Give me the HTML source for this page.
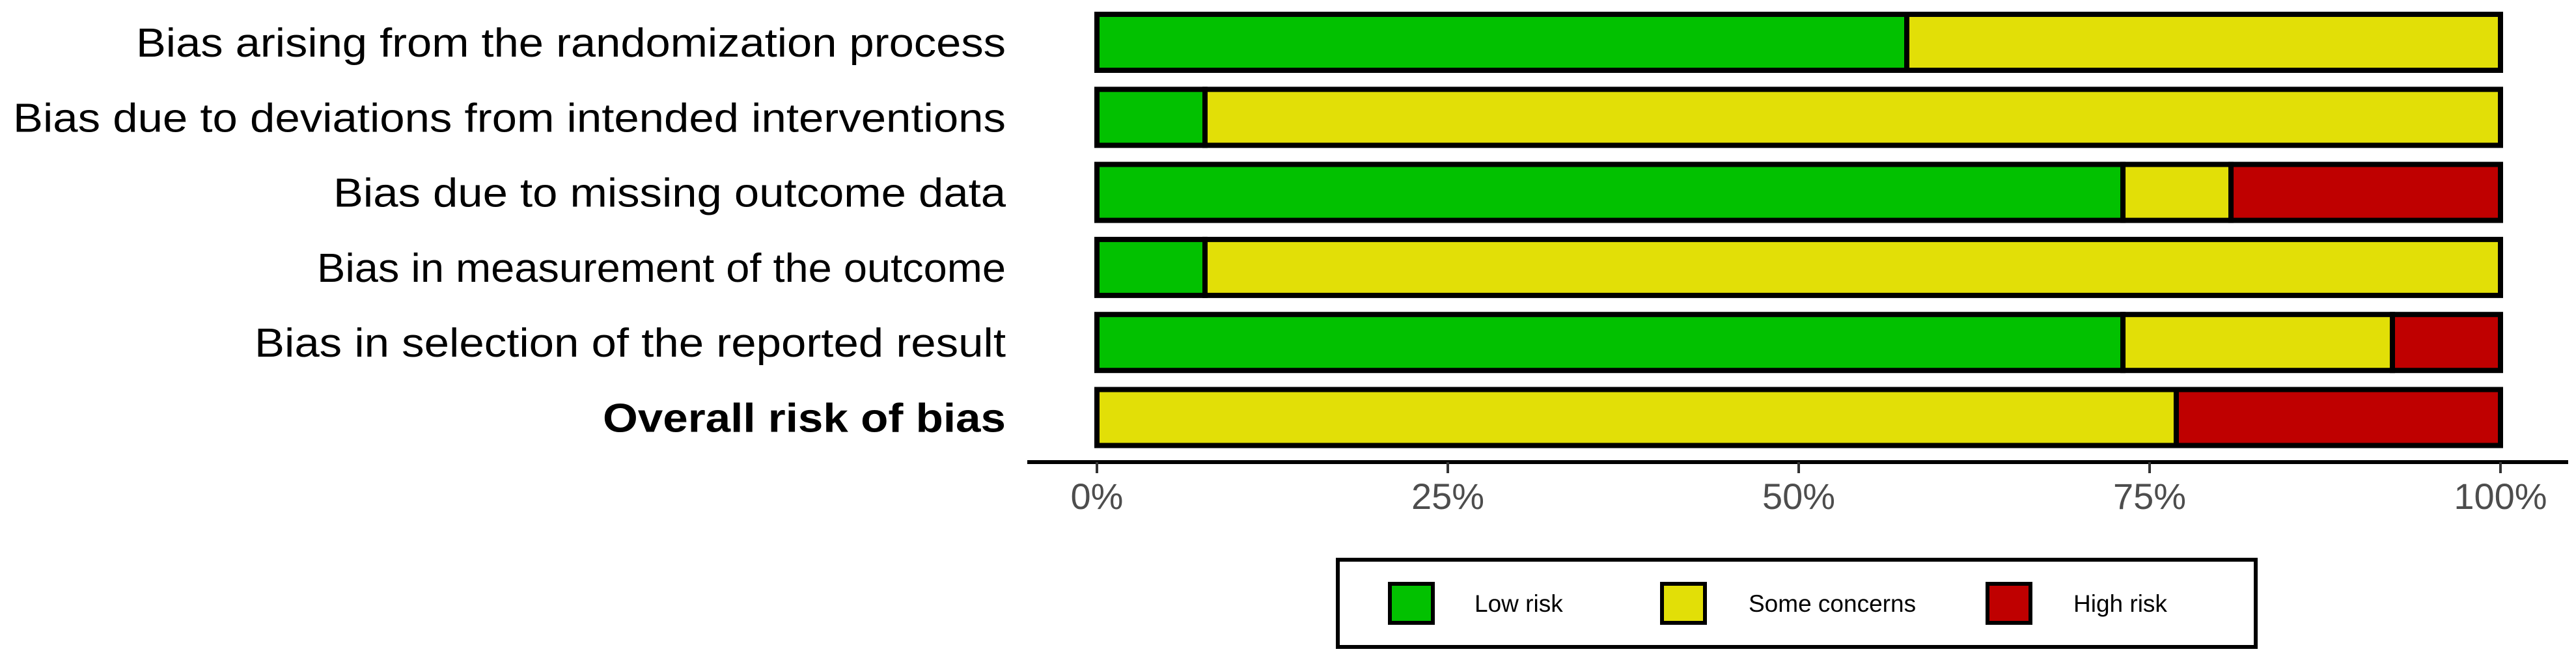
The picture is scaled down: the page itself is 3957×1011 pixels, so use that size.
<!DOCTYPE html>
<html><head><meta charset="utf-8"><style>
html,body{margin:0;padding:0;background:#fff;}
svg{display:block;font-family:"Liberation Sans",Arial,sans-serif;}
</style></head><body>
<svg id="chart" width="3957" height="1011" viewBox="0 0 3957 1011" xmlns="http://www.w3.org/2000/svg">
<rect width="3957" height="1011" fill="#fff"/>
<g id="labels"></g>
<g id="bars"></g>
<g id="axis"></g>
<g id="legend">
  <rect x="2055" y="860" width="1410" height="134" fill="#fff" stroke="#000" stroke-width="6"/>
  <g>
    <rect x="2135" y="897" width="66" height="60" fill="#02C100" stroke="#000" stroke-width="6"/>
    <text x="2265" y="940" font-size="37" fill="#000">Low risk</text>
  </g>
  <g>
    <rect x="2553" y="897" width="66" height="60" fill="#E2DF07" stroke="#000" stroke-width="6"/>
    <text x="2686" y="940" font-size="37" fill="#000">Some concerns</text>
  </g>
  <g>
    <rect x="3053" y="897" width="66" height="60" fill="#BF0000" stroke="#000" stroke-width="6"/>
    <text x="3185" y="940" font-size="37" fill="#000">High risk</text>
  </g>
</g>
</svg>
<script>
const domains = ["Bias arising from the randomization process","Bias due to deviations from intended interventions","Bias due to missing outcome data","Bias in measurement of the outcome","Bias in selection of the reported result","Overall risk of bias"];
const lowRisk = [57.7, 7.7, 73.1, 7.7, 73.1, 0];
const someConcerns = [42.3, 92.3, 7.7, 92.3, 19.2, 76.9];
const highRisk = [0, 0, 19.2, 0, 7.7, 23.1];
const tickValues = [0, 25, 50, 75, 100];
const tickLabels = ["0%","25%","50%","75%","100%"];

const NS = "http://www.w3.org/2000/svg";
const x0 = 1685, x1 = 3841;
const xScale = v => x0 + (x1 - x0) * v / 100;
const rowTop = i => 22 + i * 115.3;
const barH = 86;
const colors = ["#02C100", "#E2DF07", "#BF0000"];
const segNames = ["low", "some", "high"];
const labelFit = [1336, 1525, 1033, 1058, 1154, 619];

const labelsG = document.getElementById('labels');
const barsG = document.getElementById('bars');
const axisG = document.getElementById('axis');

domains.forEach((d, i) => {
  const t = document.createElementNS(NS, 'text');
  
  
  t.setAttribute('x', 1545);
  t.setAttribute('y', rowTop(i) + barH / 2 + 22);
  t.setAttribute('text-anchor', 'end');
  t.setAttribute('font-size', 62);
  t.setAttribute('textLength', labelFit[i]);
  t.setAttribute('lengthAdjust', 'spacingAndGlyphs');
  if (i === 5) t.setAttribute('font-weight', 'bold');
  t.setAttribute('fill', '#000');
  t.textContent = d;
  labelsG.appendChild(t);

  const vals = [lowRisk[i], someConcerns[i], highRisk[i]];
  let cum = 0;
  vals.forEach((v, k) => {
    if (v <= 0) return;
    const r = document.createElementNS(NS, 'rect');
    
    
    const xa = xScale(cum), xb = xScale(cum + v);
    r.setAttribute('x', xa);
    r.setAttribute('y', rowTop(i));
    r.setAttribute('width', xb - xa);
    r.setAttribute('height', barH);
    r.setAttribute('fill', colors[k]);
    r.setAttribute('stroke', '#000');
    r.setAttribute('stroke-width', 8);
    barsG.appendChild(r);
    cum += v;
  });
});

const axisLine = document.createElementNS(NS, 'line');


axisLine.setAttribute('x1', 1578); axisLine.setAttribute('x2', 3945);
axisLine.setAttribute('y1', 710); axisLine.setAttribute('y2', 710);
axisLine.setAttribute('stroke', '#000'); axisLine.setAttribute('stroke-width', 6);
axisG.appendChild(axisLine);

tickValues.forEach((v, i) => {
  const tk = document.createElementNS(NS, 'line');
  
  
  tk.setAttribute('x1', xScale(v)); tk.setAttribute('x2', xScale(v));
  tk.setAttribute('y1', 710); tk.setAttribute('y2', 727);
  tk.setAttribute('stroke', '#333'); tk.setAttribute('stroke-width', 4);
  axisG.appendChild(tk);
  const tl = document.createElementNS(NS, 'text');
  
  
  tl.setAttribute('x', xScale(v));
  tl.setAttribute('y', 782);
  tl.setAttribute('text-anchor', 'middle');
  tl.setAttribute('font-size', 56);
  tl.setAttribute('fill', '#4d4d4d');
  tl.textContent = tickLabels[i];
  axisG.appendChild(tl);
});
</script>
</body></html>
